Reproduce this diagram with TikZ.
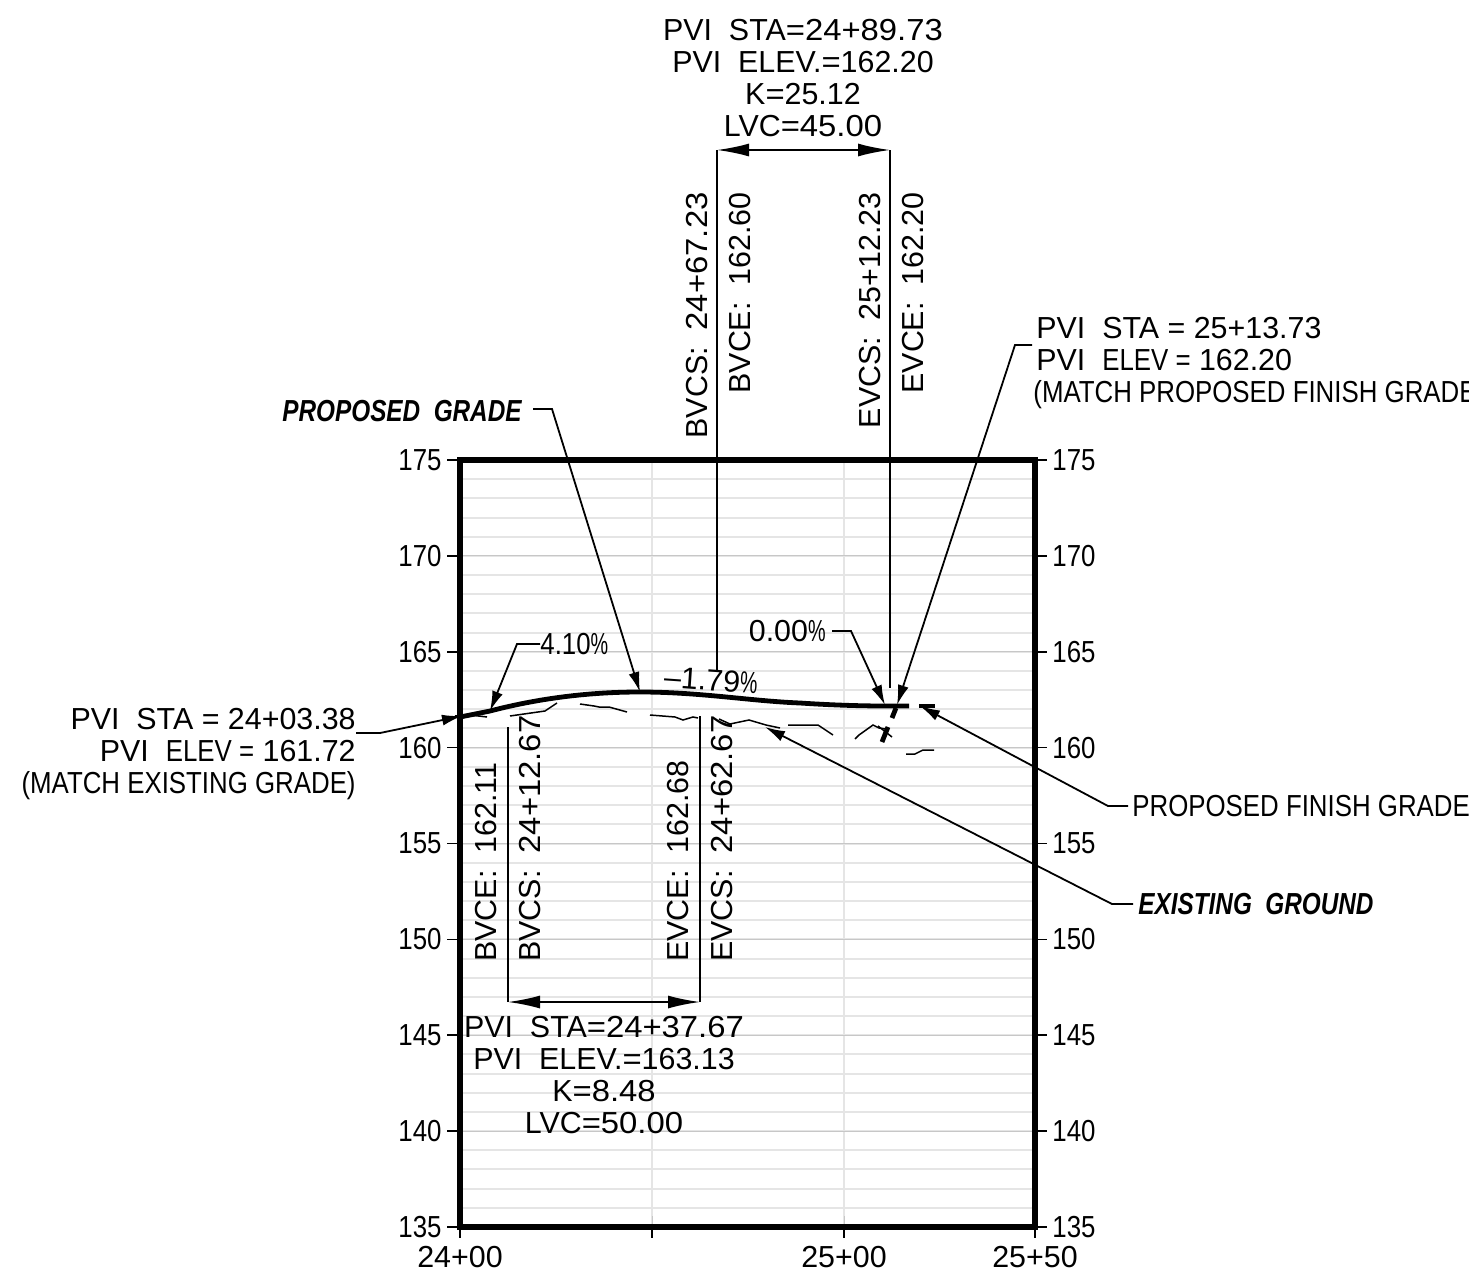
\documentclass[tikz,border=0pt]{standalone}
\usepackage{fontspec}
\setmainfont{Liberation Sans}
\newfontfamily\capfont[FakeStretch=0.85]{Liberation Sans}
\newfontfamily\digfont[FakeStretch=1.08]{Liberation Sans}
\newfontfamily\pctfont[FakeStretch=0.65]{Liberation Sans}
\newfontfamily\boldfont[FakeStretch=0.8]{Liberation Sans}
\newcommand{\capstxt}[1]{{\capfont #1}}
\newcommand{\digs}[1]{{\digfont #1}}
\newcommand{\pct}{{\pctfont\%}}
\usetikzlibrary{arrows.meta}
\tikzset{
lbl/.style={inner sep=0pt, font=\fontsize{15.2}{15.9}\selectfont, align=center},
stalbl/.style={lbl, align=none},
vlbl/.style={lbl, rotate=90},
boldlbl/.style={lbl, font=\fontsize{15.2}{15.9}\selectfont\boldfont\bfseries\itshape},
leader/.style={line width=0.9pt, -{Latex[length=10pt,width=5.5pt]}},
dimline/.style={line width=0.9pt, {Latex[length=16pt,width=6.5pt]}-{Latex[length=16pt,width=6.5pt]}},
extline/.style={line width=0.9pt},
gridline/.style={line width=1pt, black!10},
majorline/.style={line width=0.5pt, black!22},
outtick/.style={line width=0.8pt},
ground/.style={line width=0.75pt},
grade/.style={line width=2.4pt}
}

\begin{document}
\begin{tikzpicture}[x=0.5pt, y=-0.5pt]
	\useasboundingbox[fill=white] (0,0) rectangle (1469,1269);
	% grid
	\foreach \row in {0,...,40}
		\draw[gridline] (460,{460+\row*19.175}) -- (1035,{460+\row*19.175});
	\draw[gridline] (652,460) -- (652,1227);
	\draw[gridline] (844,460) -- (844,1227);
	% elevations on both sides
	\foreach \elev [count=\n from 0] in {175,170,...,135} {
		\node[lbl, anchor=east] (elevL\n) at (442,{460+\n*95.875}) {\capstxt{\elev}};
		\node[lbl, anchor=west] (elevR\n) at (1052,{460+\n*95.875}) {\capstxt{\elev}};
		\draw[majorline] (460,{460+\n*95.875}) -- (1035,{460+\n*95.875});
		\draw[outtick] (447,{460+\n*95.875}) -- (460,{460+\n*95.875});
		\draw[outtick] (1035,{460+\n*95.875}) -- (1047,{460+\n*95.875});
	}
	\foreach \tick in {460,652,844,1035} {
		\draw[majorline] (\tick,1216) -- (\tick,1227);
		\draw[outtick] (\tick,1227) -- (\tick,1238);
	}
	\draw[line width=3pt] (460,460) rectangle (1035,1227);
	\node[stalbl] (sta0) at (460,1257) {24+00};
	\node[stalbl] (sta1) at (844,1257) {25+00};
	\node[stalbl] (sta2) at (1035,1257) {25+50};

	% existing ground
	\draw[ground] (455,716) -- (470,715) -- (487,717);
	\draw[ground] (510,716) -- (545,711) -- (557,703);
	\draw[ground] (580,704) -- (594,706) -- (599,707) -- (609,707) -- (627,712);
	\draw[ground] (650,715) -- (675,717) -- (683,720) -- (693,717) -- (698,718);
	\draw[ground] (719,719) -- (730,724) -- (749,720) -- (766,725) -- (780,728);
	\draw[ground] (788,725) -- (818,725) -- (833,735);
	\draw[ground] (855,739) -- (859,735) -- (873,725) -- (879,728) -- (886,729);
	\draw[ground] (878,726) -- (892,737);
	\draw[ground] (906,754) -- (915,754) -- (923,750) -- (934,750);
	% proposed grade
	\draw[grade] (460,717) -- (490,711) .. controls (540,698) and (590,692) .. (640,692)
		.. controls (700,692) and (750,701) .. (800,703) .. controls (830,705) and (860,706) .. (885,706) -- (909,706);
	\draw[grade] (919,706) -- (935,706);
	\draw[grade] (896,708) -- (892,718);
	\draw[grade] (888,727) -- (882,742);

	% top curve
	\node[lbl] (topinfo) at (803,78) {PVI\ \ STA\digs{=24+89.73}\\PVI\ \ ELEV.\digs{=}162.20\\K\digs{=}25.12\\LVC\digs{=45.00}};
	\coordinate (bvcA) at (717,150);
	\coordinate (evcA) at (890,150);
	\coordinate (bvcAend) at (717,672);
	\coordinate (evcAend) at (890,688);
	\draw[extline] (bvcA) -- (bvcAend);
	\draw[extline] (evcA) -- (evcAend);
	\draw[dimline] (bvcA) -- (evcA);
	\node[vlbl, anchor=east] (bvcsA) at (697,192) {BVCS:\ \ \digs{24+67.23}};
	\node[vlbl, anchor=east] (bvceA) at (740,192) {BVCE:\ \ 162.60};
	\node[vlbl, anchor=east] (evcsA) at (870,192) {EVCS:\ \ 25+12.23};
	\node[vlbl, anchor=east] (evceA) at (913,192) {EVCE:\ \ 162.20};

	% bottom curve
	\node[lbl] (lowinfo) at (604,1075) {PVI\ \ STA\digs{=24+37.67}\\PVI\ \ ELEV.\digs{=}163.13\\K\digs{=8.48}\\LVC\digs{=50.00}};
	\coordinate (bvcB) at (508,1002);
	\coordinate (evcB) at (700,1002);
	\coordinate (bvcBend) at (508,727);
	\coordinate (evcBend) at (700,716);
	\draw[extline] (bvcB) -- (bvcBend);
	\draw[extline] (evcB) -- (evcBend);
	\draw[dimline] (bvcB) -- (evcB);
	\node[vlbl, anchor=west] (bvceB) at (486,962) {BVCE:\ \ 162.11};
	\node[vlbl, anchor=west] (bvcsB) at (530,962) {BVCS:\ \ \digs{24+12.67}};
	\node[vlbl, anchor=west] (evceB) at (678,962) {EVCE:\ \ 162.68};
	\node[vlbl, anchor=west] (evcsB) at (722,962) {EVCS:\ \ \digs{24+62.67}};

	% callouts
	\node[lbl, align=right, anchor=east] (pviL) at (356,754) {PVI\ \ STA = 24+03.38\\PVI\ \ \capstxt{ELEV =} 161.72\\\capstxt{(MATCH EXISTING GRADE)}};
	\coordinate (pviLknee) at (380,733);
	\coordinate (pviLtip) at (462,716);
	\draw[leader] (356,733) -- (pviLknee) -- (pviLtip);

	\node[lbl, align=left, anchor=west] (pviR) at (1033,363) {\hspace*{1.5pt}PVI\ \ STA = 25+13.73\\\hspace*{1.5pt}PVI\ \ \capstxt{ELEV =} 162.20\\\capstxt{(MATCH PROPOSED FINISH GRADE)}};
	\coordinate (pviRknee) at (1015,345);
	\coordinate (pviRtip) at (897,705);
	\draw[leader] (1032,345) -- (pviRknee) -- (pviRtip);

	\node[boldlbl, anchor=east] (propgrade) at (522,411) {PROPOSED\ \ GRADE};
	\coordinate (propknee) at (552,409);
	\coordinate (proptip) at (640,692);
	\draw[leader] (propgrade.east |- propknee) ++(11,0) -- (propknee) -- (proptip);

	\node[lbl, anchor=west] (upgrade) at (540,644) {\capstxt{4.10}\pct};
	\coordinate (upknee) at (517,644);
	\coordinate (uptip) at (490,711);
	\draw[leader] (upgrade.west) -- (upknee) -- (uptip);

	\node[lbl, rotate=-4] (downgrade) at (711,680) {--1.79\pct};

	\node[lbl, anchor=east] (flatgrade) at (826,631) {0.00\pct};
	\coordinate (flatknee) at (851,631);
	\coordinate (flattip) at (885,705);
	\draw[leader] (832,631) -- (flatknee) -- (flattip);

	\node[lbl, anchor=west] (finish) at (1132,806) {\capstxt{PROPOSED FINISH GRADE}};
	\coordinate (finishknee) at (1108,806);
	\coordinate (finishtip) at (920,706);
	\draw[leader] (finish.west) ++(-4,0) -- (finishknee) -- (finishtip);

	\node[boldlbl, anchor=west] (existing) at (1138,904) {EXISTING\ \ GROUND};
	\coordinate (existknee) at (1112,904);
	\coordinate (existtip) at (765,727);
	\draw[leader] (existing.west) ++(-5,0) -- (existknee) -- (existtip);
\end{tikzpicture}
\end{document}
